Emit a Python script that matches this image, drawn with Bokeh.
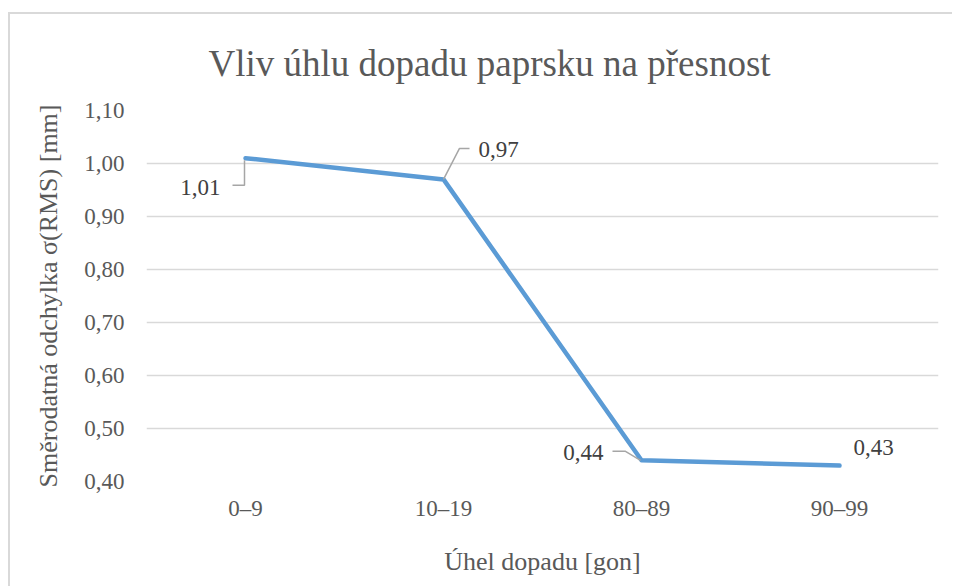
from bokeh.plotting import figure
from bokeh.models import Range1d, FixedTicker, ColumnDataSource, LabelSet
from bokeh.core.properties import value
from bokeh.embed import file_html
from bokeh.resources import INLINE

# ---------------- data ----------------
categories = ["0–9", "10–19", "80–89", "90–99"]
rms_values = [1.01, 0.97, 0.44, 0.43]
value_labels = ["1,01", "0,97", "0,44", "0,43"]
y_ticks = [0.4, 0.5, 0.6, 0.7, 0.8, 0.9, 1.0, 1.1]
y_tick_labels = ["0,40", "0,50", "0,60", "0,70", "0,80", "0,90", "1,00", "1,10"]
title_text = "Vliv úhlu dopadu paprsku na přesnost"
x_title = "Úhel dopadu [gon]"
y_title_main = "Směrodatná odchylka σ"
y_title_sub = "(RMS)"
y_title_unit = "[mm]"

# ---------------- layout (page pixels) ----------------
OX, OY = 10, 14                     # canvas top-left on page
FRAME_L, FRAME_R, FRAME_T, FRAME_B = 146, 938, 110, 481
CW, CH = 944, 574
Y_MIN, Y_MAX = 0.4, 1.1
FONT = "Liberation Serif"
TXT = "#595959"
LBL = "#404040"

n = len(categories)
px_per_x = (FRAME_R - FRAME_L) / n
px_per_y = (FRAME_B - FRAME_T) / (Y_MAX - Y_MIN)

p = figure(width=CW, height=CH, title=title_text,
           x_range=Range1d(-0.5, n - 0.5), y_range=Range1d(Y_MIN, Y_MAX),
           output_backend="svg", toolbar_location=None,
           min_border_left=FRAME_L - OX, min_border_right=CW - (FRAME_R - OX),
           min_border_top=FRAME_T - OY, min_border_bottom=CH - (FRAME_B - OY))
p.styles = {"border-left": "2px solid #d9d9d9", "border-top": "2px solid #d9d9d9",
            "margin-top": "12px", "margin-left": "8px"}
p.outline_line_color = None
p.background_fill_color = "white"
p.border_fill_color = "white"

p.title.align = "left"
p.title.offset = 62
p.title.standoff = 53
p.title.text_font = FONT
p.title.text_font_size = "37px"
p.title.text_font_style = "normal"
p.title.text_color = TXT

xs = list(range(n))
p.xaxis.ticker = FixedTicker(ticks=xs)
p.xaxis.major_label_overrides = {i: c for i, c in zip(xs, categories)}
p.yaxis.ticker = FixedTicker(ticks=y_ticks)
p.yaxis.major_label_overrides = {t: l for t, l in zip(y_ticks, y_tick_labels)}
for ax in (p.xaxis, p.yaxis):
    ax.axis_line_color = None
    ax.major_tick_line_color = None
    ax.minor_tick_line_color = None
    ax.major_label_text_font = FONT
    ax.major_label_text_font_size = "23px"
    ax.major_label_text_color = TXT
    ax.axis_label_text_font = FONT
    ax.axis_label_text_font_size = "26px"
    ax.axis_label_text_font_style = "normal"
    ax.axis_label_text_color = TXT
p.yaxis.major_label_standoff = 16
p.xaxis.major_label_standoff = 8
p.xaxis.axis_label = x_title
p.xaxis.axis_label_standoff = 23
p.yaxis.axis_label = y_title_main + y_title_sub + " " + y_title_unit
p.yaxis.axis_label_standoff = 18

p.xgrid.grid_line_color = None
p.ygrid.grid_line_color = "#d9d9d9"
p.ygrid.grid_line_width = 1.5

# data line
p.line(xs, rms_values, line_color="#5B9BD5", line_width=4.5,
       line_cap="round", line_join="round")

# data labels
label_dx = [-25, 35, -38, 14]
label_dy = [-37, 22, 0, 11]      # up positive
label_align = ["right", "left", "right", "left"]
src = ColumnDataSource(dict(x=xs, y=rms_values, t=value_labels,
                            dx=label_dx, dy=label_dy, al=label_align))
p.add_layout(LabelSet(x="x", y="y", text="t", source=src,
                      x_offset="dx", y_offset="dy", text_align="al",
                      text_baseline="alphabetic",
                      text_font=value(FONT), text_font_size="23px",
                      text_color=LBL))

# leader lines (pixel offsets from point; y up positive)
leaders = {0: [(-1, -2), (-1, -27), (-13, -27)],
           1: [(0, 0), (16, 31), (26, 31)],
           2: [(-1, 0), (-16, 9), (-29, 9)]}
lx, ly = [], []
for i, pts in leaders.items():
    lx.append([xs[i] + dx / px_per_x for dx, dy in pts])
    ly.append([rms_values[i] + dy / px_per_y for dx, dy in pts])
p.multi_line(lx, ly, line_color="#a6a6a6", line_width=1.5)

open("out.html", "w").write(file_html(p, INLINE))
